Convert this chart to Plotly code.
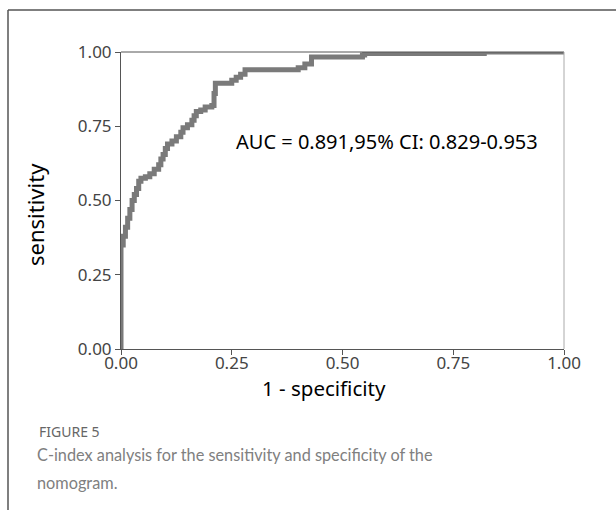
import plotly.graph_objects as go

# ROC curve vertices (false positive rate where a rise happens, sensitivity after the rise)
fpr = [0, 0, 0.005, 0.01, 0.015, 0.02, 0.025, 0.03, 0.035, 0.04, 0.045, 0.055, 0.065,
       0.075, 0.085, 0.09, 0.095, 0.10, 0.105, 0.115, 0.125, 0.135, 0.14, 0.15, 0.16,
       0.165, 0.17, 0.18, 0.19, 0.205, 0.21, 0.213, 0.25, 0.26, 0.27, 0.28, 0.40, 0.415,
       0.43, 0.545, 0.55, 0.82, 1.0]
tpr = [0, 0.35, 0.38, 0.41, 0.44, 0.47, 0.50, 0.52, 0.54, 0.565, 0.575, 0.58, 0.59,
       0.605, 0.62, 0.64, 0.655, 0.675, 0.69, 0.70, 0.715, 0.73, 0.745, 0.755, 0.77,
       0.785, 0.80, 0.805, 0.815, 0.82, 0.86, 0.895, 0.905, 0.915, 0.925, 0.94, 0.947, 0.96,
       0.983, 0.99, 0.995, 1.0, 1.0]

tick_vals = [0, 0.25, 0.5, 0.75, 1.0]
tick_text = ["0.00", "0.25", "0.50", "0.75", "1.00"]
auc_label = "AUC = 0.891,95% CI: 0.829-0.953"
x_title = "1 - specificity"
y_title = "sensitivity"
fig_label = "FIGURE 5"
caption_lines = ["C-index analysis for the sensitivity and specificity of the", "nomogram."]

W, H = 616, 510
x0, x1 = 121, 564
y_top, y_bot = 52, 349

fig = go.Figure()
fig.add_trace(go.Scatter(
    x=fpr, y=tpr, mode="lines", line=dict(color="#7a7a7a", width=5, shape="hv"),
    cliponaxis=False, showlegend=False, hoverinfo="skip"))

fig.update_layout(
    width=W, height=H, margin=dict(l=0, r=0, t=0, b=0, autoexpand=False),
    paper_bgcolor="white", plot_bgcolor="white",
    font=dict(family="Noto Sans", color="#444444"),
    xaxis=dict(domain=[x0 / W, x1 / W], range=[0, 1], tickvals=tick_vals, ticktext=tick_text,
               showgrid=False, zeroline=False, showline=True, linecolor="#555555", linewidth=1,
               ticks="outside", ticklen=5, tickcolor="#555555", automargin=False,
               ticklabelstandoff=-6, tickfont=dict(size=17, color="#444444")),
    yaxis=dict(domain=[(H - y_bot) / H, (H - y_top) / H], range=[0, 1], tickvals=tick_vals,
               ticktext=tick_text, showgrid=False, zeroline=False, showline=True,
               linecolor="#555555", linewidth=1, ticks="outside", ticklen=5, tickcolor="#555555",
               automargin=False, tickfont=dict(size=17, color="#444444")),
)

# plot frame: top (dark) and right (light)
fig.add_shape(type="line", xref="paper", yref="paper", x0=x0 / W, x1=x1 / W,
              y0=(H - y_top) / H, y1=(H - y_top) / H, line=dict(color="#555555", width=1))
fig.add_shape(type="line", xref="paper", yref="paper", x0=x1 / W, x1=x1 / W,
              y0=(H - y_bot) / H, y1=(H - y_top) / H, line=dict(color="#aaaaaa", width=1))
# card border (top and left)
fig.add_shape(type="line", xref="paper", yref="paper", x0=8 / W, x1=1,
              y0=(H - 10) / H, y1=(H - 10) / H, line=dict(color="#555555", width=1.5))
fig.add_shape(type="line", xref="paper", yref="paper", x0=8 / W, x1=8 / W,
              y0=0, y1=(H - 10) / H, line=dict(color="#555555", width=1.5))

fig.add_annotation(x=0.255, y=0.70, xref="x", yref="y", text=auc_label, showarrow=False,
                   xanchor="left", yanchor="middle", font=dict(size=20, color="black"))
fig.add_annotation(x=324 / W, y=(H - 388) / H, xref="paper", yref="paper", text=x_title,
                   showarrow=False, xanchor="center", yanchor="middle",
                   font=dict(size=20.5, color="black"))
fig.add_annotation(x=35 / W, y=(H - 215) / H, xref="paper", yref="paper", text=y_title,
                   showarrow=False, xanchor="center", yanchor="middle", textangle=-90,
                   font=dict(size=22, color="black"))
fig.add_annotation(x=37 / W, y=(H - 431) / H, xref="paper", yref="paper", text=fig_label,
                   showarrow=False, xanchor="left", yanchor="middle",
                   font=dict(size=14, color="#666666"))
for i, line in enumerate(caption_lines):
    fig.add_annotation(x=35 / W, y=(H - (455 + 27 * i)) / H, xref="paper", yref="paper",
                       text=line, showarrow=False, xanchor="left", yanchor="middle",
                       font=dict(family="Lato", size=16.3, color="#808080"))

fig.write_html("out.html", config={"displayModeBar": False},
               post_script="document.body.style.margin='0';document.body.style.overflow='hidden';")
